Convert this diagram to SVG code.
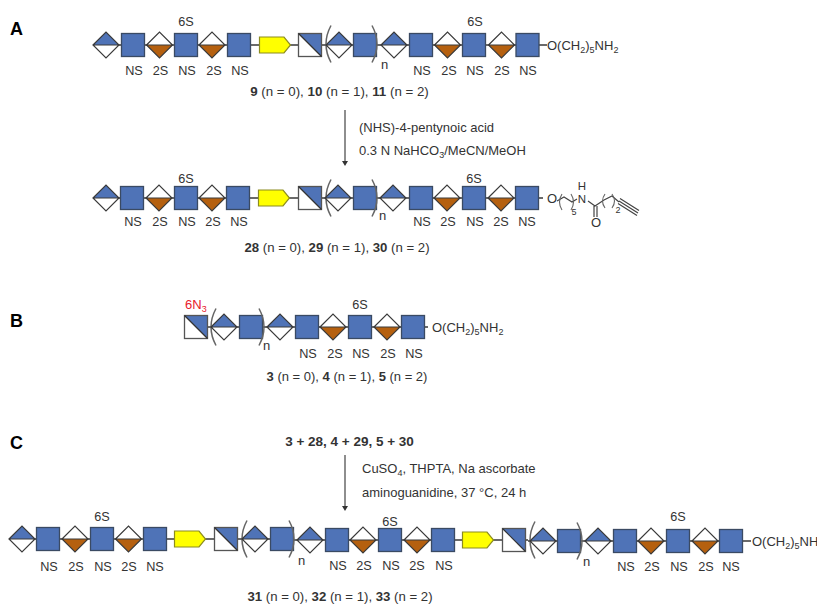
<svg xmlns="http://www.w3.org/2000/svg" width="817" height="607" viewBox="0 0 817 607">
<style>
text{font-family:"Liberation Sans",Arial,sans-serif;font-size:13px;fill:#333}
.m{text-anchor:middle}
.b{font-weight:bold}
.r{font-size:12.700px}
.p{font-size:18px;font-weight:bold;fill:#000}
.s{font-size:9px}
.l{stroke:#3a3a3a;stroke-width:1.5;fill:none}
.t{stroke:#444;stroke-width:1.2;fill:none}
.par{stroke:#666;stroke-width:1.5;fill:none}
</style>
<defs>
<g id="dB"><path d="M-13 0 0-13 13 0Z" fill="#4f73b7"/><path d="M-13 0 0 13 13 0Z" fill="#fff"/><path d="M-13 0 0-13 13 0 0 13ZM-13 0H13" fill="none" stroke="#3a3a3a" stroke-width="1.2"/></g>
<g id="dO"><path d="M-13 0 0-13 13 0Z" fill="#fff"/><path d="M-13 0 0 13 13 0Z" fill="#b5600f"/><path d="M-13 0 0-13 13 0 0 13ZM-13 0H13" fill="none" stroke="#3a3a3a" stroke-width="1.2"/></g>
<rect id="sq" x="-11.500" y="-11.500" width="23" height="23" fill="#4f73b7" stroke="#3a4a63" stroke-width="1.300"/>
<g id="hs"><rect x="-11.500" y="-11.500" width="23" height="23" fill="#fff"/><path d="M-11.500-11.500H11.500V11.500Z" fill="#4f73b7"/><rect x="-11.500" y="-11.500" width="23" height="23" fill="none" stroke="#555" stroke-width="1.300"/><path d="M-11.500-11.500 11.500 11.500" stroke="#333" stroke-width="1.200"/></g>
<path id="py" d="M-15.500-8H9L15.500 0 9 8H-15.500Z" fill="#ffff00" stroke="#8c8c20" stroke-width="1.200"/>
<path id="lp" class="par" d="M4-18.500Q-6 0 4 18.500"/>
<path id="rp" class="par" d="M-4-18.500Q6 0-4 18.500"/>
</defs>
<g id="connectors">
<path class="l" d="M93 45H547M93 198H543M184 327H428M9 539H293M293 540H528M528 541H751"/>
<path class="t" d="M345 110V163M345 455V509"/>
<path d="M342 161h6l-3 5ZM342 506h6l-3 5Z" fill="#333"/>
</g>
<text class="p" x="10" y="35">A</text>
<text class="p" x="10" y="327">B</text>
<text class="p" x="10" y="449">C</text>
<g id="row-a">
<use id="a1" href="#dB" x="106" y="45"/><use id="a2" href="#sq" x="133" y="45"/><use id="a3" href="#dO" x="159.500" y="45"/><use id="a4" href="#sq" x="186" y="45"/><use id="a5" href="#dO" x="212" y="45"/><use id="a6" href="#sq" x="239" y="45"/><use id="a7" href="#py" x="275" y="45"/><use id="a8" href="#hs" x="310" y="45"/><use href="#lp" x="327" y="44"/><use id="a9" href="#dB" x="339" y="45"/><use id="a10" href="#sq" x="365" y="45"/><use href="#rp" x="376" y="44"/><use id="a11" href="#dB" x="394" y="45"/><use id="a12" href="#sq" x="421" y="45"/><use id="a13" href="#dO" x="447.500" y="45"/><use id="a14" href="#sq" x="474" y="45"/><use id="a15" href="#dO" x="501.500" y="45"/><use id="a16" href="#sq" x="527.500" y="45"/>
</g>
<g id="labels-a">
<text class="m r" x="186" y="26">6S</text><text class="m r" x="475" y="26">6S</text>
<text class="m r" x="134" y="75">NS</text><text class="m r" x="160.500" y="75">2S</text><text class="m r" x="187" y="75">NS</text><text class="m r" x="214" y="75">2S</text><text class="m r" x="240" y="75">NS</text>
<text class="m r" x="422" y="75">NS</text><text class="m r" x="449" y="75">2S</text><text class="m r" x="475" y="75">NS</text><text class="m r" x="502" y="75">2S</text><text class="m r" x="528" y="75">NS</text>
<text x="381" y="69">n</text>
<text x="547" y="50">O(CH<tspan class="s" dy="3">2</tspan><tspan dy="-3">)</tspan><tspan class="s" dy="3">5</tspan><tspan dy="-3">NH</tspan><tspan class="s" dy="3">2</tspan></text>
<text class="m" style="font-size:13.300px" x="339.500" y="96"><tspan class="b">9</tspan> (n = 0), <tspan class="b">10</tspan> (n = 1), <tspan class="b">11</tspan> (n = 2)</text>
<text x="359" y="132">(NHS)-4-pentynoic acid</text>
<text x="359" y="155">0.3 N NaHCO<tspan class="s" dy="3">3</tspan><tspan dy="-3">/MeCN/MeOH</tspan></text>
</g>
<g id="row-a2">
<use id="b1" href="#dB" x="106" y="198"/><use id="b2" href="#sq" x="132" y="198"/><use id="b3" href="#dO" x="159" y="198"/><use id="b4" href="#sq" x="186" y="198"/><use id="b5" href="#dO" x="212" y="198"/><use id="b6" href="#sq" x="238" y="198"/><use id="b7" href="#py" x="274" y="198"/><use id="b8" href="#hs" x="310" y="198"/><use href="#lp" x="327" y="198"/><use id="b9" href="#dB" x="338" y="198"/><use id="b10" href="#sq" x="365" y="198"/><use href="#rp" x="376" y="198"/><use id="b11" href="#dB" x="393" y="198"/><use id="b12" href="#sq" x="421" y="198"/><use id="b13" href="#dO" x="447" y="198"/><use id="b14" href="#sq" x="474" y="198"/><use id="b15" href="#dO" x="501" y="198"/><use id="b16" href="#sq" x="527" y="198"/>
</g>
<g id="labels-a2">
<text class="m r" x="186" y="183">6S</text><text class="m r" x="474" y="183">6S</text>
<text class="m r" x="133" y="226">NS</text><text class="m r" x="160" y="226">2S</text><text class="m r" x="187" y="226">NS</text><text class="m r" x="213" y="226">2S</text><text class="m r" x="239" y="226">NS</text>
<text class="m r" x="422" y="226">NS</text><text class="m r" x="448" y="226">2S</text><text class="m r" x="475" y="226">NS</text><text class="m r" x="501" y="226">2S</text><text class="m r" x="527" y="226">NS</text>
<text x="379" y="220">n</text>
<text class="m" style="font-size:13.200px" x="337" y="252"><tspan class="b">28</tspan> (n = 0), <tspan class="b">29</tspan> (n = 1), <tspan class="b">30</tspan> (n = 2)</text>
</g>
<g id="alkyne-tail">
<text class="m" x="552" y="203">O</text>
<text class="m" style="font-size:11.500px" x="582" y="203">N</text><text class="m" style="font-size:11.500px" x="582" y="189.500">H</text>
<text class="m" x="596" y="227">O</text>
<text class="s m" x="574" y="215">5</text><text class="s m" x="618" y="213">2</text>
<path class="t" d="M557 201 564 197 572 202 577 199M588 201 595 206 604 200 612 196 619 202M594 206V217M597 206V217M619 201 638 213M618 203.500 637 215.500M620 198.500 639 210.500"/>
<path class="par" style="stroke-width:1.100" d="M562 194Q557 202 562 210M571 194Q576 202 571 210M605 194Q600 201 605 208M612 194Q617 201 612 208"/>
</g>
<g id="row-b">
<use id="c1" href="#hs" x="196" y="327"/><use href="#lp" x="212" y="327"/><use id="c2" href="#dB" x="224" y="327"/><use id="c3" href="#sq" x="251" y="327"/><use href="#rp" x="263" y="327"/><use id="c4" href="#dB" x="280" y="327"/><use id="c5" href="#sq" x="307" y="327"/><use id="c6" href="#dO" x="333" y="327"/><use id="c7" href="#sq" x="360" y="327"/><use id="c8" href="#dO" x="387" y="327"/><use id="c9" href="#sq" x="413" y="327"/>
</g>
<g id="labels-b">
<text x="185" y="309" style="fill:#e8202a">6N<tspan class="s" style="fill:#e8202a" dy="3">3</tspan></text>
<text class="m r" x="360" y="309">6S</text>
<text x="263" y="350">n</text>
<text class="m r" x="308" y="358">NS</text><text class="m r" x="335" y="358">2S</text><text class="m r" x="361" y="358">NS</text><text class="m r" x="388" y="358">2S</text><text class="m r" x="414" y="358">NS</text>
<text x="432" y="332">O(CH<tspan class="s" dy="3">2</tspan><tspan dy="-3">)</tspan><tspan class="s" dy="3">5</tspan><tspan dy="-3">NH</tspan><tspan class="s" dy="3">2</tspan></text>
<text class="m" x="347" y="381"><tspan class="b">3</tspan> (n = 0), <tspan class="b">4</tspan> (n = 1), <tspan class="b">5</tspan> (n = 2)</text>
</g>
<g id="labels-c">
<text class="m b" style="font-size:13.500px" x="349.500" y="446">3 + 28, 4 + 29, 5 + 30</text>
<text x="362" y="473">CuSO<tspan class="s" dy="3">4</tspan><tspan dy="-3">, THPTA, Na ascorbate</tspan></text>
<text x="362" y="497">aminoguanidine, 37 °C, 24 h</text>
</g>
<g id="row-c">
<use id="d1" href="#dB" x="22" y="539"/><use id="d2" href="#sq" x="48" y="539"/><use id="d3" href="#dO" x="75" y="539"/><use id="d4" href="#sq" x="102" y="539"/><use id="d5" href="#dO" x="128.500" y="539"/><use id="d6" href="#sq" x="155" y="539"/><use id="d7" href="#py" x="190" y="539"/><use id="d8" href="#hs" x="226" y="539"/><use href="#lp" x="243" y="539"/><use id="d9" href="#dB" x="255" y="539"/><use id="d10" href="#sq" x="282" y="539"/><use href="#rp" x="293" y="539"/><use id="d11" href="#dB" x="310" y="540"/><use id="d12" href="#sq" x="337" y="540"/><use id="d13" href="#dO" x="363" y="540"/><use id="d14" href="#sq" x="390" y="540"/><use id="d15" href="#dO" x="417" y="540"/><use id="d16" href="#sq" x="443" y="540"/><use id="d17" href="#py" x="478" y="540"/><use id="d18" href="#hs" x="514" y="540"/><use href="#lp" x="531" y="540"/><use id="d19" href="#dB" x="543" y="541"/><use id="d20" href="#sq" x="569" y="541"/><use href="#rp" x="581" y="541"/><use id="d21" href="#dB" x="598" y="541"/><use id="d22" href="#sq" x="625" y="541"/><use id="d23" href="#dO" x="651" y="541"/><use id="d24" href="#sq" x="678" y="541"/><use id="d25" href="#dO" x="705" y="541"/><use id="d26" href="#sq" x="731" y="541"/>
</g>
<g id="labels-c2">
<text class="m r" x="102" y="521">6S</text><text class="m r" x="390" y="526">6S</text><text class="m r" x="678" y="521">6S</text>
<text class="m r" x="49" y="571">NS</text><text class="m r" x="76" y="571">2S</text><text class="m r" x="103" y="571">NS</text><text class="m r" x="129" y="571">2S</text><text class="m r" x="155" y="571">NS</text>
<text class="m r" x="338" y="570">NS</text><text class="m r" x="364" y="570">2S</text><text class="m r" x="391" y="570">NS</text><text class="m r" x="417" y="570">2S</text><text class="m r" x="444" y="570">NS</text>
<text class="m r" x="626" y="571">NS</text><text class="m r" x="652" y="571">2S</text><text class="m r" x="679" y="571">NS</text><text class="m r" x="706" y="571">2S</text><text class="m r" x="731" y="571">NS</text>
<text x="298" y="565">n</text><text x="583" y="566">n</text>
<text x="752" y="546">O(CH<tspan class="s" dy="3">2</tspan><tspan dy="-3">)</tspan><tspan class="s" dy="3">5</tspan><tspan dy="-3">NH</tspan></text>
<text class="m" style="font-size:13.200px" x="340" y="601"><tspan class="b">31</tspan> (n = 0), <tspan class="b">32</tspan> (n = 1), <tspan class="b">33</tspan> (n = 2)</text>
</g>
</svg>
